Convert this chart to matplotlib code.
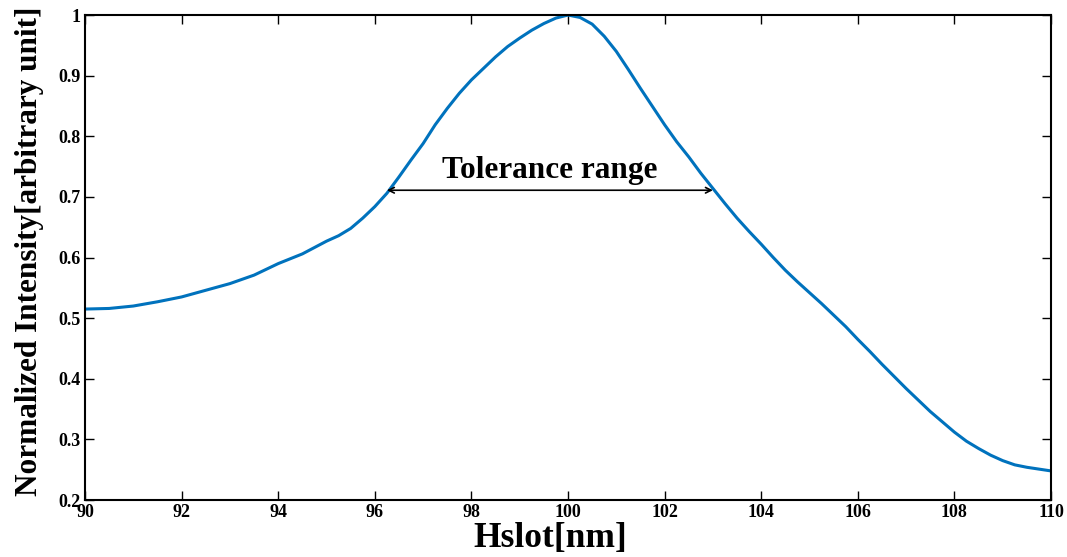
import numpy as np
import matplotlib
matplotlib.use('Agg')
import matplotlib.pyplot as plt

# Hslot sweep (nm) and normalized intensity
hslot = [90, 90.5, 91, 91.5, 92, 92.5, 93, 93.5, 94, 94.5, 95, 95.25, 95.5,
         95.75, 96, 96.25, 96.5, 96.75, 97, 97.25, 97.5, 97.75, 98, 98.25,
         98.5, 98.75, 99, 99.25, 99.5, 99.75, 100, 100.25, 100.5, 100.75,
         101, 101.25, 101.5, 101.75, 102, 102.25, 102.5, 102.75, 103, 103.25,
         103.5, 103.75, 104, 104.25, 104.5, 104.75, 105, 105.25, 105.5,
         105.75, 106, 106.25, 106.5, 106.75, 107, 107.25, 107.5, 107.75, 108,
         108.25, 108.5, 108.75, 109, 109.25, 109.5, 109.75, 110]
intensity = [0.515, 0.516, 0.520, 0.527, 0.535, 0.546, 0.557, 0.571, 0.590,
             0.606, 0.627, 0.636, 0.648, 0.665, 0.684, 0.706, 0.733, 0.761,
             0.788, 0.819, 0.846, 0.871, 0.893, 0.912, 0.931, 0.948, 0.962,
             0.975, 0.986, 0.995, 1.0, 0.996, 0.985, 0.965, 0.940, 0.910,
             0.879, 0.849, 0.819, 0.791, 0.766, 0.739, 0.714, 0.689, 0.665,
             0.643, 0.622, 0.600, 0.579, 0.560, 0.542, 0.524, 0.505, 0.486,
             0.465, 0.445, 0.424, 0.404, 0.384, 0.365, 0.346, 0.329, 0.312,
             0.297, 0.285, 0.274, 0.265, 0.258, 0.254, 0.251, 0.248]

# tolerance range arrow
tol_left = 96.25
tol_right = 103.0
tol_level = 0.711

xticks = [90, 92, 94, 96, 98, 100, 102, 104, 106, 108, 110]
yticks = [0.2, 0.3, 0.4, 0.5, 0.6, 0.7, 0.8, 0.9, 1.0]
ytick_labels = ['0.2', '0.3', '0.4', '0.5', '0.6', '0.7', '0.8', '0.9', '1']

plt.rcParams['font.family'] = ['Liberation Serif', 'DejaVu Serif']
plt.rcParams['font.weight'] = 'bold'

fig = plt.figure(figsize=(10.67, 5.57), dpi=100)
ax = fig.add_axes([0.0797, 0.1023, 0.9053, 0.8707])

ax.plot(hslot, intensity, color='#0072BD', linewidth=2.2)

ax.annotate('', xy=(tol_left, tol_level), xytext=(tol_right, tol_level),
            arrowprops=dict(arrowstyle='<->', color='black', lw=1.2,
                            shrinkA=0, shrinkB=0))
ax.text((tol_left + tol_right) / 2, tol_level + 0.009, 'Tolerance range',
        ha='center', va='bottom', fontsize=22.5, fontweight='bold')

ax.set_xlim(90, 110)
ax.set_ylim(0.2, 1.0)
ax.set_xticks(xticks)
ax.set_yticks(yticks)
ax.set_yticklabels(ytick_labels)
ax.tick_params(direction='in', length=6.5, width=1, top=True, right=True,
               labelsize=13, pad=3)
for lbl in ax.get_xticklabels() + ax.get_yticklabels():
    lbl.set_fontweight('bold')
for s in ax.spines.values():
    s.set_linewidth(1.5)

ax.set_xlabel('Hslot[nm]', fontsize=25.5, fontweight='bold')
ax.xaxis.set_label_coords(0.482, -0.046, transform=ax.transAxes)
ax.xaxis.label.set_va('top')
ax.set_ylabel('Normalized Intensity[arbitrary unit]', fontsize=22.5,
              fontweight='bold')
ax.yaxis.set_label_coords(-0.042, 0.513)

plt.savefig('out.png', dpi=100)
